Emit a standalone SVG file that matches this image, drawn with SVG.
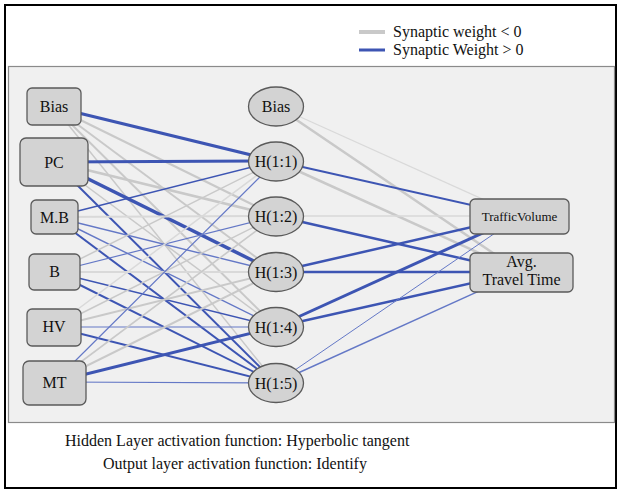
<svg xmlns="http://www.w3.org/2000/svg" width="620" height="495" viewBox="0 0 620 495">
<style>
text{font-family:'Liberation Serif','DejaVu Serif','Times New Roman',serif;fill:#111;text-anchor:middle}
.lbl{font-size:16px}
.box{fill:#d3d3d3;stroke:#5a5a5a;stroke-width:1.3}
.pos{stroke:#3d55b3;fill:none}
.pl{stroke:#6478c6;fill:none}
.neg{stroke:#c9c9c9;fill:none}
.nl{stroke:#d9d9d9;fill:none}
.cap{font-size:16px;text-anchor:start}
</style>
<rect x="0" y="0" width="620" height="495" fill="#fff"/>
<rect x="5" y="5" width="611" height="483" fill="none" stroke="#000" stroke-width="2"/>
<rect x="8.5" y="66.5" width="606" height="356" fill="#f0f0f0" stroke="#8a8a8a" stroke-width="1.2"/>
<g id="legend">
<line x1="359" y1="32" x2="385" y2="32" stroke="#c9c9c9" stroke-width="4"/>
<line x1="359" y1="50" x2="385" y2="50" stroke="#3d55b3" stroke-width="3"/>
<text class="cap" x="393" y="37" font-family="Liberation Serif, serif">Synaptic weight &lt; 0</text>
<text class="cap" x="393" y="55" font-family="Liberation Serif, serif">Synaptic Weight &gt; 0</text>
</g>
<g id="connectors">
<line class="pos" x1="54" y1="107" x2="276" y2="161" stroke-width="3"/>
<line class="neg" x1="54" y1="107" x2="276" y2="216" stroke-width="2.2"/>
<line class="neg" x1="54" y1="107" x2="276" y2="272" stroke-width="2"/>
<line class="neg" x1="54" y1="107" x2="276" y2="327" stroke-width="2"/>
<line class="neg" x1="54" y1="107" x2="276" y2="383" stroke-width="1.5"/>
<line class="pos" x1="54" y1="162" x2="276" y2="161" stroke-width="3"/>
<line class="neg" x1="54" y1="162" x2="276" y2="216" stroke-width="2.5"/>
<line class="pos" x1="54" y1="162" x2="276" y2="272" stroke-width="3.5"/>
<line class="neg" x1="54" y1="162" x2="276" y2="327" stroke-width="1.5"/>
<line class="pos" x1="54" y1="162" x2="276" y2="383" stroke-width="2"/>
<line class="pos" x1="54" y1="217" x2="276" y2="161" stroke-width="1.6"/>
<line class="nl" x1="54" y1="217" x2="276" y2="216" stroke-width="2"/>
<line class="pl" x1="54" y1="217" x2="276" y2="272" stroke-width="1.4"/>
<line class="pl" x1="54" y1="217" x2="276" y2="327" stroke-width="1.4"/>
<line class="pos" x1="54" y1="217" x2="276" y2="383" stroke-width="2"/>
<line class="neg" x1="54" y1="272" x2="276" y2="161" stroke-width="1.5"/>
<line class="pl" x1="54" y1="272" x2="276" y2="216" stroke-width="1.2"/>
<line class="nl" x1="54" y1="272" x2="276" y2="272" stroke-width="2.2"/>
<line class="pos" x1="54" y1="272" x2="276" y2="327" stroke-width="1.6"/>
<line class="pos" x1="54" y1="272" x2="276" y2="383" stroke-width="2"/>
<line class="nl" x1="54" y1="327" x2="276" y2="161" stroke-width="1.5"/>
<line class="neg" x1="54" y1="327" x2="276" y2="216" stroke-width="1.5"/>
<line class="neg" x1="54" y1="327" x2="276" y2="272" stroke-width="2"/>
<line class="pl" x1="54" y1="327" x2="276" y2="327" stroke-width="1.2"/>
<line class="pos" x1="54" y1="327" x2="276" y2="383" stroke-width="2"/>
<line class="pl" x1="54" y1="382" x2="276" y2="161" stroke-width="1.2"/>
<line class="neg" x1="54" y1="382" x2="276" y2="216" stroke-width="1.6"/>
<line class="neg" x1="54" y1="382" x2="276" y2="272" stroke-width="2"/>
<line class="pos" x1="54" y1="382" x2="276" y2="327" stroke-width="3"/>
<line class="pl" x1="54" y1="382" x2="276" y2="383" stroke-width="1.1"/>
<line class="nl" x1="276" y1="106" x2="520" y2="216" stroke-width="1.2"/>
<line class="neg" x1="276" y1="106" x2="521" y2="272" stroke-width="2.5"/>
<line class="pos" x1="276" y1="161" x2="520" y2="216" stroke-width="2"/>
<line class="neg" x1="276" y1="161" x2="521" y2="272" stroke-width="2.5"/>
<line class="nl" x1="276" y1="216" x2="520" y2="216" stroke-width="1.6"/>
<line class="pos" x1="276" y1="216" x2="521" y2="272" stroke-width="2.5"/>
<line class="pos" x1="276" y1="272" x2="520" y2="216" stroke-width="2.5"/>
<line class="pos" x1="276" y1="272" x2="521" y2="272" stroke-width="2.5"/>
<line class="pos" x1="276" y1="327" x2="520" y2="216" stroke-width="3"/>
<line class="pos" x1="276" y1="327" x2="521" y2="272" stroke-width="2.5"/>
<line class="pl" x1="276" y1="383" x2="520" y2="216" stroke-width="1"/>
<line class="pl" x1="276" y1="383" x2="521" y2="272" stroke-width="1.5"/>
</g>
<g id="in-bias"><rect class="box" x="27" y="88" width="54" height="37" rx="5"/><text class="lbl" x="54" y="112">Bias</text></g>
<g id="in-pc"><rect class="box" x="20" y="138" width="68" height="48" rx="6"/><text class="lbl" x="54" y="168">PC</text></g>
<g id="in-mb"><rect class="box" x="31" y="200" width="47" height="34" rx="5"/><text class="lbl" x="54.5" y="223">M.B</text></g>
<g id="in-b"><rect class="box" x="29" y="254" width="51" height="36" rx="5"/><text class="lbl" x="54.5" y="277">B</text></g>
<g id="in-hv"><rect class="box" x="27" y="309" width="54" height="37" rx="5"/><text class="lbl" x="54" y="332">HV</text></g>
<g id="in-mt"><rect class="box" x="23" y="361" width="63" height="44" rx="6"/><text class="lbl" x="54.5" y="388">MT</text></g>
<g id="h-bias"><ellipse class="box" cx="276" cy="106.5" rx="27.5" ry="19.5"/><text class="lbl" x="276" y="112">Bias</text></g>
<g id="h11"><ellipse class="box" cx="276" cy="161.5" rx="27.5" ry="19.5"/><text class="lbl" x="276" y="167">H(1:1)</text></g>
<g id="h12"><ellipse class="box" cx="276" cy="216.5" rx="27.5" ry="19.5"/><text class="lbl" x="276" y="222">H(1:2)</text></g>
<g id="h13"><ellipse class="box" cx="276" cy="272" rx="27.5" ry="19.5"/><text class="lbl" x="276" y="277.5">H(1:3)</text></g>
<g id="h14"><ellipse class="box" cx="276" cy="327" rx="27.5" ry="19.5"/><text class="lbl" x="276" y="332.5">H(1:4)</text></g>
<g id="h15"><ellipse class="box" cx="276" cy="383" rx="27.5" ry="19.5"/><text class="lbl" x="276" y="388.5">H(1:5)</text></g>
<g id="out-tv"><rect class="box" x="470" y="199" width="99" height="35" rx="5"/><text x="519.5" y="221" font-size="13">TrafficVolume</text></g>
<g id="out-avg"><rect class="box" x="470" y="253" width="103" height="39" rx="5"/><text class="lbl" x="521.5" y="267">Avg.</text><text class="lbl" x="521.5" y="285">Travel Time</text></g>
<g id="caption">
<text class="cap" x="65" y="446">Hidden Layer activation function: Hyperbolic tangent</text>
<text class="cap" x="103" y="469">Output layer activation function: Identify</text>
</g>
</svg>
